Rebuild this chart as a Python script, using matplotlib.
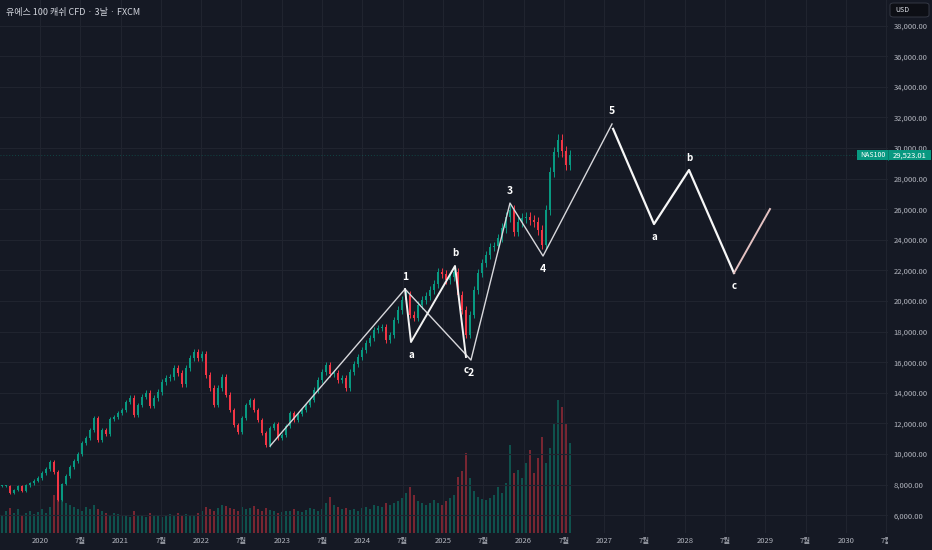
import numpy as np
import matplotlib
matplotlib.use("Agg")
import matplotlib.pyplot as plt
from matplotlib.patches import Rectangle, FancyBboxPatch
from matplotlib.transforms import blended_transform_factory

plt.rcParams['font.family'] = ['Noto Sans CJK KR', 'DejaVu Sans']

BG = '#151924'
GRID = '#20242f'
TXT = '#b2b5be'
UP = '#089981'
DOWN = '#f23645'

# ------------------------
# data
# ------------------------
closes = [
    7910, 7910, 7450, 7650, 7910, 7580, 7970, 8100, 8240, 8430, 8760, 9020, 9480,
    8820, 6990, 8040,
    8560, 9150, 9540, 10000, 10720, 11050, 11570, 12350,
    10920, 11570, 11310, 12290, 12420, 12680, 12880, 13400, 13660, 12550, 13200, 13730,
    13990, 13140, 13660, 14050, 14710, 14970, 15030, 15620, 15290, 14580, 15620, 16270,
    16670, 16270, 16540, 15160, 14310, 13200, 14310, 15030, 13860, 12880, 11900, 11440,
    12350, 13200, 13530, 12880, 12220, 11370, 10590, 11700, 11960, 11050, 11240, 11830,
    12680, 12220, 12610, 12880, 13200, 13530, 14180, 14840, 15360, 15820, 15230, 15290,
    14840, 14970, 14310, 15360, 15880, 16340, 16800, 17260, 17580, 18100, 18240, 18300, 17450,
    17780, 18760, 19410, 20070, 20390, 19090, 18890, 19740, 20070, 20330, 20720, 21110,
    21900, 21770, 21370, 21570, 21900,
    20390, 19410, 17780, 19090, 20720, 21830, 22480, 23010, 23530, 23600, 24120, 24770,
    25490, 25950, 24510, 25160, 25430, 25490, 25290, 25160, 24640, 23660, 25950, 28430,
    29740, 30520, 29800, 28890, 29523.01,
]

volumes = [
    18, 22, 25, 20, 24, 18, 20, 22, 19, 21, 24, 20, 26,
    38, 45, 35,
    30, 28, 26, 24, 22, 26, 24, 28,
    24, 22, 20, 18, 20, 19, 17, 18, 16, 22, 18, 17, 16, 20, 18, 17, 16, 18, 19, 17, 20, 18, 19, 17,
    18, 20, 22, 26, 24, 22, 25, 28, 27, 25, 24, 22, 26, 24, 25, 27, 24, 22, 25, 23, 22, 20, 21, 22,
    22, 24, 22, 21, 23, 25, 24, 22, 24, 30, 36, 28, 26, 24, 25, 23, 24, 22, 25, 26, 24, 28, 27, 26, 30,
    28, 30, 32, 35, 40, 46, 38, 32, 30, 28, 30, 33, 30, 28, 32, 35, 38,
    56, 62, 80, 55, 42, 36, 34, 33, 35, 38, 46, 40,
    50, 88, 60, 63, 55, 70, 83, 60, 75, 96, 70, 85, 110, 133, 126, 110, 90,
]

first_t = 2019.53
step_t = 0.0496

x_ticks = [2020 + 0.5 * i for i in range(22)]
x_labels = [str(2020 + i // 2) if i % 2 == 0 else '7월' for i in range(22)]
y_ticks = list(range(6000, 40000, 2000))

# elliott wave count (decimal year, price)
wave_x = [2022.854, 2024.529, 2025.347, 2025.831, 2026.241, 2027.097]
wave_y = [10520, 20780, 16140, 26400, 22940, 31570]
wave_lbl = ['', '1', '2', '3', '4', '5']

sub_x = [2024.529, 2024.603, 2025.149, 2025.285]
sub_y = [20780, 17320, 22290, 16340]
sub_lbl = ['', 'a', 'b', 'c']

corr_x = [2027.11, 2027.618, 2028.052, 2028.610]
corr_y = [31250, 25030, 28560, 21830]
corr_lbl = ['', 'a', 'b', 'c']

tail_x = [2028.610, 2029.057]
tail_y = [21830, 26010]

last_price = closes[-1]

# ------------------------
# figure
# ------------------------
W, H = 932, 550
fig = plt.figure(figsize=(W / 100, H / 100), dpi=100, facecolor=BG)
rect = [0, 17 / H, 888 / W, 533 / H]
xlim = (2019.504, 2030.521)
ylim = (4837, 39673)

n = len(closes)
t = first_t + step_t * np.arange(n)
c = np.array(closes, dtype=float)
o = np.concatenate([[c[0]], c[:-1]])
up = c >= o
cols = np.where(up, UP, DOWN)
hi = np.maximum(o, c) * 1.012
lo = np.minimum(o, c) * 0.988

# volume pane underneath
axv = fig.add_axes(rect, facecolor=BG)
axv.bar(t, volumes, width=0.024, color=cols, alpha=0.45, linewidth=0)
axv.set_xlim(*xlim)
axv.set_ylim(0, max(volumes) * 4.0)
axv.axis('off')

ax = fig.add_axes(rect, facecolor='none')
ax.set_xlim(*xlim)
ax.set_ylim(*ylim)

ax.set_yticks(y_ticks)
ax.set_yticklabels([f'{v:,.2f}' for v in y_ticks])
ax.yaxis.tick_right()
ax.set_xticks(x_ticks)
ax.set_xticklabels(x_labels)
ax.tick_params(axis='y', length=0, pad=4, labelsize=5.5, labelcolor=TXT)
ax.tick_params(axis='x', length=0, pad=3, labelsize=5.5, labelcolor=TXT)
ax.grid(True, color=GRID, lw=0.8)
ax.set_axisbelow(True)
for s in ax.spines.values():
    s.set_visible(False)

# candles
ax.vlines(t, lo, hi, colors=cols, lw=0.7, zorder=2)
body = np.maximum(np.abs(c - o), 60)
ax.bar(t, body, bottom=np.minimum(o, c), width=0.026, color=cols, linewidth=0, zorder=3)

# last price line
ax.axhline(last_price, color=UP, lw=0.7, ls=(0, (1, 2)), alpha=0.35, zorder=1)

# wave lines
ax.plot(wave_x, wave_y, color='#d8d8dc', lw=1.0, zorder=4)
ax.plot(sub_x, sub_y, color='#f2f2f2', lw=1.4, zorder=4)
ax.plot(corr_x, corr_y, color='#f7f7f7', lw=1.6, zorder=4)
ax.plot(tail_x, tail_y, color='#e4c2c2', lw=1.4, zorder=4)


def put_labels(xs, ys, labels, sizes):
    for i, lab in enumerate(labels):
        if not lab:
            continue
        prev_y = ys[i - 1]
        peak = ys[i] > prev_y
        dy = 9 if peak else -9.5
        ax.annotate(lab, (xs[i], ys[i]), xytext=(0, dy), textcoords='offset points',
                    ha='center', va='center', color='white', fontsize=sizes,
                    fontweight='bold', zorder=6)


put_labels(wave_x, wave_y, wave_lbl, 7.5)
put_labels(sub_x, sub_y, sub_lbl, 7)
put_labels(corr_x, corr_y, corr_lbl, 7)

# title
fig.text(6 / W, 1 - 12 / H, '유에스 100 캐쉬 CFD · 3날 · FXCM', fontsize=6.5,
         color='#d1d4dc', ha='left', va='center')

# USD box
fig.patches.append(FancyBboxPatch((890 / W, 1 - 17 / H), 39 / W, 14 / H,
                                  boxstyle='round,pad=0,rounding_size=0.004',
                                  transform=fig.transFigure, fc='#0d0f15',
                                  ec='#3a3e4a', lw=0.6))
fig.text(895 / W, 1 - 10 / H, 'USD', fontsize=5, color='#e0e3eb', ha='left', va='center')

# price tag
tr = blended_transform_factory(fig.transFigure, ax.transData)
tag = Rectangle((857 / W, last_price - 330), 74 / W, 660, transform=tr,
                fc=UP, ec='none', clip_on=False, zorder=10)
ax.add_patch(tag)
ax.plot([888 / W, 888 / W], [last_price - 330, last_price + 330], transform=tr,
        color='#067a67', lw=0.6, clip_on=False, zorder=11)
ax.text(872.5 / W, last_price, 'NAS100', transform=tr, fontsize=5, color='white',
        ha='center', va='center', zorder=12, clip_on=False)
ax.text(909.5 / W, last_price, f'{last_price:,.2f}', transform=tr, fontsize=5.5,
        color='white', ha='center', va='center', zorder=12, clip_on=False)

# time axis cut under the price scale
fig.patches.append(Rectangle((888 / W, 0), 44 / W, 17 / H, transform=fig.transFigure,
                             fc=BG, ec='none', zorder=20))

fig.savefig('out.png', dpi=100, facecolor=BG)
